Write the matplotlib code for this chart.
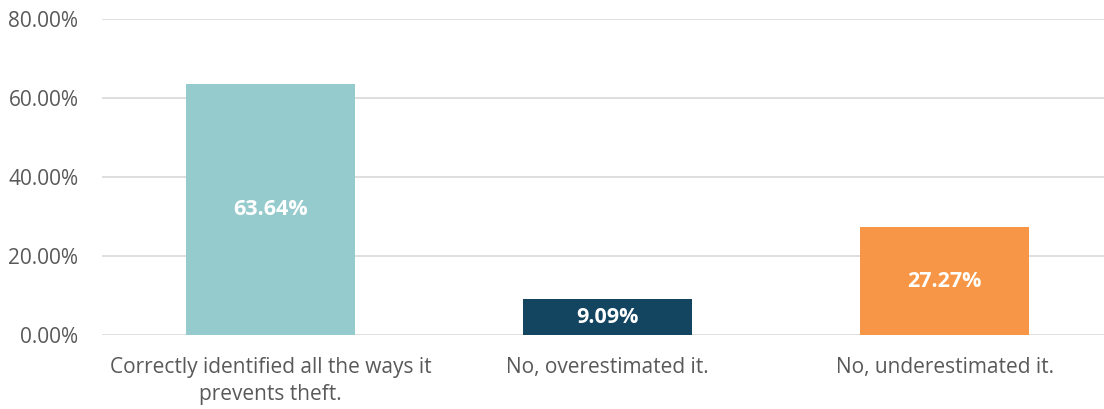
import matplotlib.pyplot as plt
import numpy as np

categories = ["Correctly identified all the ways it\nprevents theft.",
              "No, overestimated it.",
              "No, underestimated it."]
values = [63.64, 9.09, 27.27]
colors = ["#96CBCD", "#134460", "#F79646"]

plt.rcParams['font.family'] = ['Open Sans', 'DejaVu Sans']

fig = plt.figure(figsize=(11.04, 4.09), dpi=100)
# plot area runs slightly past the right edge of the figure, like the reference
ax = fig.add_axes([102 / 1104, 1 - 335 / 409, (1113 - 102) / 1104, (335 - 19) / 409])

x = np.arange(len(categories))
bars = ax.bar(x, values, width=0.5, color=colors, zorder=3)

for b, v in zip(bars, values):
    ax.text(b.get_x() + b.get_width() / 2, v / 2, f"{v:.2f}%", ha='center', va='center',
            color='white', fontsize=15.5, fontweight='bold', zorder=4)

ax.set_xlim(-0.5, 2.5)
ax.set_ylim(0, 80)
ax.set_yticks([0, 20, 40, 60, 80])
ax.set_yticklabels([f"{t:.2f}%" for t in [0, 20, 40, 60, 80]])
ax.set_xticks(x)
ax.set_xticklabels(categories, linespacing=1.35)
ax.yaxis.grid(True, color='#D9D9D9', linewidth=1.2, zorder=0)
ax.tick_params(axis='both', length=0, labelsize=15, colors='#595959')
ax.tick_params(axis='y', pad=17)
ax.tick_params(axis='x', pad=16)
for s in ax.spines.values():
    s.set_visible(False)

fig.savefig("out.png", dpi=100)
plt.close(fig)
